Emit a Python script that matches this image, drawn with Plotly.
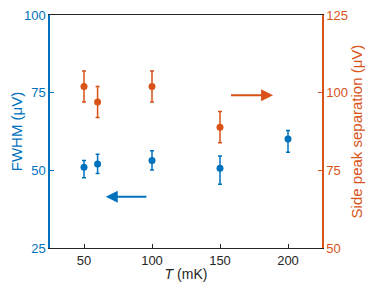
import plotly.graph_objects as go

# Data
T_fwhm = [50, 60, 100, 150, 200]
fwhm = [51.0, 52.0, 53.2, 50.7, 60.1]
fwhm_err_plus = [2.2, 3.2, 3.1, 3.9, 2.7]
fwhm_err_minus = [3.4, 3.0, 3.1, 5.2, 4.3]

T_sep = [50, 60, 100, 150]
sep = [102.0, 97.0, 102.0, 88.9]
sep_err = [5.0, 5.0, 5.0, 5.0]

x_ticks = [50, 100, 150, 200]
y1_ticks = [25, 50, 75, 100]
y2_ticks = [50, 75, 100, 125]

BLUE = "#0072BD"
ORANGE = "#D95319"
FONT = "Liberation Sans, Arial, sans-serif"

fig = go.Figure()
fig.add_trace(go.Scatter(
    x=T_fwhm, y=fwhm, mode="markers",
    marker=dict(color=BLUE, size=7),
    error_y=dict(type="data", symmetric=False, array=fwhm_err_plus,
                 arrayminus=fwhm_err_minus, color=BLUE, thickness=1.5, width=2),
    yaxis="y", showlegend=False))
fig.add_trace(go.Scatter(
    x=T_sep, y=sep, mode="markers",
    marker=dict(color=ORANGE, size=7),
    error_y=dict(type="data", array=sep_err, color=ORANGE, thickness=1.5, width=2),
    yaxis="y2", showlegend=False))

# arrows
fig.add_annotation(x=66, y=41.5, ax=97, ay=41.5, xref="x", yref="y",
                   axref="x", ayref="y", text="", showarrow=True,
                   arrowhead=2, arrowsize=1.2, arrowwidth=2, arrowcolor=BLUE)
fig.add_annotation(x=189, y=99.2, ax=157, ay=99.2, xref="x", yref="y2",
                   axref="x", ayref="y2", text="", showarrow=True,
                   arrowhead=2, arrowsize=1.2, arrowwidth=2, arrowcolor=ORANGE)

# the page body has an 8px default margin, so the figure is sized to fit the window
fig.update_layout(
    width=366, height=285,
    margin=dict(l=42, r=52, t=7, b=45),
    plot_bgcolor="white", paper_bgcolor="white",
    font=dict(family=FONT, size=13, color="#262626"),
    xaxis=dict(range=[25, 225], tickvals=x_ticks, ticks="inside", ticklen=4,
               tickcolor="#262626", showline=True, linecolor="#262626",
               linewidth=1.2, mirror=True, showgrid=False, zeroline=False,
               automargin=False, ticklabeloverflow="allow",
               title=dict(text="<i>T</i> (mK)", standoff=2, font=dict(size=14)),
               tickfont=dict(size=13, color="#262626")),
    yaxis=dict(range=[25, 100], tickvals=y1_ticks, ticks="inside", ticklen=4,
               tickcolor=BLUE, showline=True, linecolor=BLUE, linewidth=1.5,
               showgrid=False, zeroline=False, automargin=False,
               ticklabeloverflow="allow",
               tickfont=dict(size=13, color=BLUE),
               title=dict(text="FWHM (μV)", font=dict(color=BLUE, size=15), standoff=4)),
    yaxis2=dict(range=[50, 125], tickvals=y2_ticks, ticks="inside", ticklen=4,
                tickcolor=ORANGE, showline=True, linecolor=ORANGE, linewidth=1.5,
                showgrid=False, zeroline=False, overlaying="y", side="right",
                automargin=False, ticklabeloverflow="allow",
                tickfont=dict(size=13, color=ORANGE),
                title=dict(text="Side peak separation (μV)", font=dict(color=ORANGE, size=15), standoff=4)),
)

fig.write_html("out.html")
